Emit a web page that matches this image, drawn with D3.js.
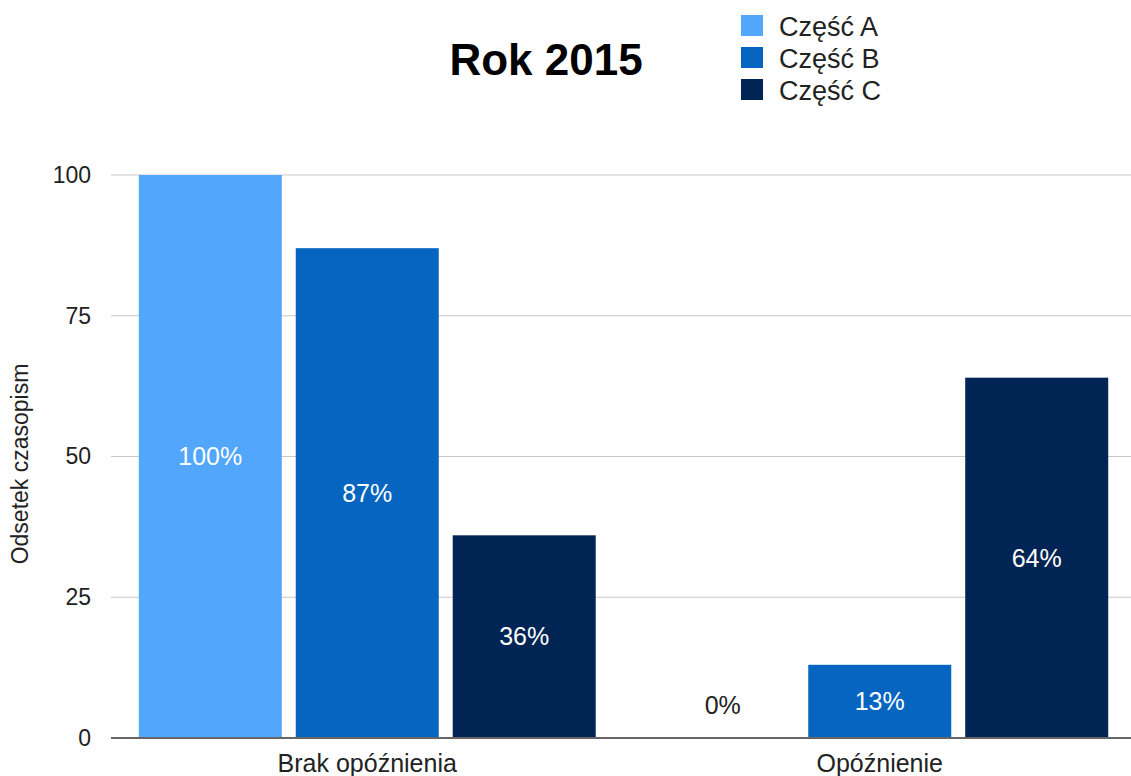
<!DOCTYPE html>
<html>
<head>
<meta charset="utf-8">
<script src="https://cdnjs.cloudflare.com/ajax/libs/d3/7.8.5/d3.min.js"></script>
<style>
  body { margin: 0; background: #fff; }
  text { font-family: "Liberation Sans", Arial, sans-serif; }
</style>
</head>
<body>
<div id="vis"></div>
<script>
'use strict';

// categories on x axis
var groups = ['Brak opóźnienia', 'Opóźnienie'];
// series
var seriesNames = ['Część A', 'Część B', 'Część C'];
var seriesColors = ['#52a6fb', '#0565c0', '#002453'];
// percentages per series, one value per group
var valuesA = [100, 0];
var valuesB = [87, 13];
var valuesC = [36, 64];
var yTicks = [0, 25, 50, 75, 100];

var width = 1131, height = 776;
var margin = { top: 175, right: 0, bottom: 38, left: 111 };

var svg = d3.select('#vis').append('svg')
    .attr('width', width)
    .attr('height', height);

var x0 = d3.scaleBand()
    .domain(groups)
    .range([margin.left, 1136])
    .padding(0);

var x1 = d3.scaleBand()
    .domain(seriesNames)
    .range([0, x0.bandwidth()])
    .paddingInner(0.089)
    .paddingOuter(0.177);

var y = d3.scaleLinear()
    .domain([0, 100])
    .range([height - margin.bottom, margin.top]);

//gridlines
svg.append('g')
    .selectAll('line')
    .data(yTicks.filter(function (d) { return d > 0; }))
    .enter().append('line')
    .attr('x1', margin.left)
    .attr('x2', width)
    .attr('y1', function (d) { return y(d); })
    .attr('y2', function (d) { return y(d); })
    .attr('stroke', '#c8c8c8')
    .attr('stroke-width', 1);

//y tick labels
var yAxis = svg.append('g')
    .attr('transform', 'translate(' + margin.left + ',0)')
    .call(d3.axisLeft(y).tickValues(yTicks).tickSize(0).tickPadding(20));
yAxis.select('.domain').remove();
yAxis.selectAll('text')
    .attr('font-size', 23)
    .attr('fill', '#222')
    .attr('font-family', '"Liberation Sans", Arial, sans-serif');

//bars
var data = [valuesA, valuesB, valuesC];
groups.forEach(function (g, gi) {
    seriesNames.forEach(function (s, si) {
        var v = data[si][gi];
        var bx = x0(g) + x1(s);
        svg.append('rect')
            .attr('x', bx)
            .attr('y', y(v))
            .attr('width', x1.bandwidth())
            .attr('height', y(0) - y(v))
            .attr('fill', seriesColors[si]);

        var h = y(0) - y(v);
        var inside = h > 40;
        svg.append('text')
            .text(v + '%')
            .attr('x', bx + x1.bandwidth() / 2)
            .attr('y', inside ? (y(v) + y(0)) / 2 : y(0) - 33)
            .attr('dy', '0.35em')
            .attr('text-anchor', 'middle')
            .attr('font-size', 25)
            .attr('fill', inside ? '#fff' : '#222');
    });
});

//baseline
svg.append('line')
    .attr('x1', margin.left)
    .attr('x2', width)
    .attr('y1', y(0))
    .attr('y2', y(0))
    .attr('stroke', '#666')
    .attr('stroke-width', 2);

//x labels
svg.append('g')
    .selectAll('text')
    .data(groups)
    .enter().append('text')
    .text(function (d) { return d; })
    .attr('x', function (d) { return x0(d) + x0.bandwidth() / 2; })
    .attr('y', 772)
    .attr('text-anchor', 'middle')
    .attr('font-size', 25)
    .attr('fill', '#222');

//y axis title
svg.append('text')
    .text('Odsetek czasopism')
    .attr('transform', 'translate(28,464) rotate(-90)')
    .attr('text-anchor', 'middle')
    .attr('font-size', 23)
    .attr('fill', '#222');

//title
svg.append('text')
    .text('Rok 2015')
    .attr('x', 546)
    .attr('y', 75)
    .attr('text-anchor', 'middle')
    .attr('font-size', 44)
    .attr('font-weight', 'bold')
    .attr('fill', '#000');

//legend
var legend = svg.append('g').selectAll('g')
    .data(seriesNames)
    .enter().append('g')
    .attr('transform', function (d, i) { return 'translate(741,' + (15 + i * 32) + ')'; });
legend.append('rect')
    .attr('width', 22)
    .attr('height', 21)
    .attr('fill', function (d, i) { return seriesColors[i]; });
legend.append('text')
    .text(function (d) { return d; })
    .attr('x', 38)
    .attr('y', 21)
    .attr('font-size', 27)
    .attr('fill', '#222');
</script>
</body>
</html>
